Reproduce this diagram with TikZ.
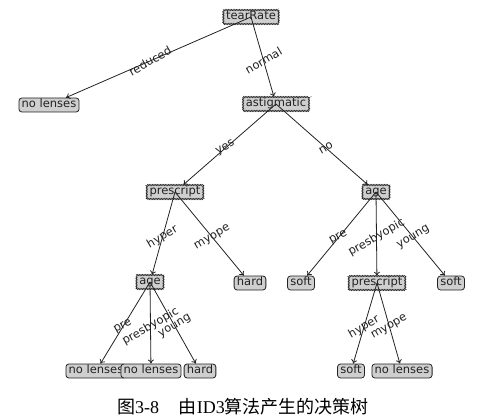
\documentclass[tikz,border=0pt]{standalone}
\usepackage{fontspec}
\usepackage{xcolor}
\usetikzlibrary{arrows.meta,calc,decorations.pathmorphing}
\newfontfamily\dejavu{DejaVu Sans}
\newfontfamily\cjk{Noto Sans CJK SC}
\newfontfamily\capserif{Liberation Serif}
\definecolor{boxgray}{HTML}{CFCFCF}
\definecolor{inkgray}{HTML}{222222}

\begin{document}
\begin{tikzpicture}[
            x = 1pt, y = -1pt,
            every node/.append style = {font = \dejavu\fontsize{11.5}{13}\selectfont, text = inkgray},
            decision/.style = {draw = inkgray, fill = boxgray, line width = 0.5pt,
                decorate, decoration = {zigzag, segment length = 1.6pt, amplitude = 0.7pt},
                inner xsep = 2.8pt, inner ysep = 2.3pt, text height = 0.74em, text depth = 0.2em},
            leaf/.style = {draw = inkgray, fill = boxgray, line width = 0.8pt, rounded corners = 3pt,
                inner xsep = 2.8pt, inner ysep = 2.3pt, text height = 0.74em, text depth = 0.2em},
            edge/.style = {draw = inkgray, line width = 0.8pt, -{To[length = 4pt, width = 6pt]}},
            edgelabel/.style = {rotate = 30, inner sep = 0pt}]
            \useasboundingbox (0,0) rectangle (504,420);
            % decision nodes
            \node[decision] (tear) at (251,17) {tearRate};
            \node[decision] (astig) at (276,104) {astigmatic};
            \node[decision] (presL) at (175,192) {prescript};
            \node[decision] (ageR) at (376,192) {age};
            \node[decision] (ageL) at (150,282) {age};
            \node[decision] (presR) at (377,283) {prescript};
            % leaves
            \node[leaf] (nlA) at (49,105) {no lenses};
            \node[leaf] (hardA) at (250,283) {hard};
            \node[leaf] (softA) at (301,283) {soft};
            \node[leaf] (softB) at (451,283) {soft};
            \node[leaf] (nlB) at (96,371) {no lenses};
            \node[leaf] (nlC) at (151,371) {no lenses};
            \node[leaf] (hardB) at (200,371) {hard};
            \node[leaf] (softC) at (351,371) {soft};
            \node[leaf] (nlD) at (402,371) {no lenses};
            % connectors and their labels
            \foreach \from/\to/\lbl in {tear/nlA/reduced, tear/astig/normal,
                    astig/presL/yes, astig/ageR/no,
                    presL/ageL/hyper, presL/hardA/myope,
                    ageR/softA/pre, ageR/presR/presbyopic, ageR/softB/young,
                    ageL/nlB/pre, ageL/nlC/presbyopic, ageL/hardB/young,
                    presR/softC/hyper, presR/nlD/myope} {
                \draw[edge] (\from.center) -- (\to);
                \node[edgelabel] (lbl-\from-\to) at ($(\from.center)!0.5!(\to.center)$) {\lbl};
            }
            % caption
            \node[font = \capserif\fontsize{18}{20}\selectfont, text = black] (caption) at (243,407)
                {{\cjk 图}3-8\hspace{1.1em}{\cjk 由}ID3{\cjk 算法产生的决策树}};
        \end{tikzpicture}
\end{document}
